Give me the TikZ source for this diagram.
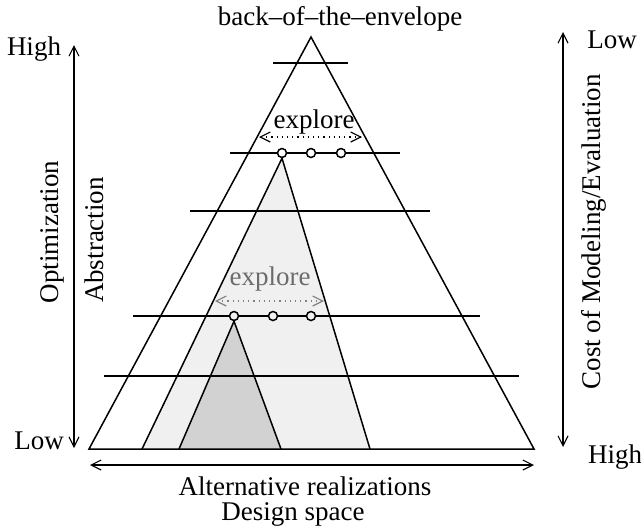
\documentclass[tikz,border=0pt]{standalone}
\usepackage{fontspec}
\setmainfont{Liberation Serif}
\usetikzlibrary{arrows.meta,positioning,calc,backgrounds}

\begin{document}
\begin{tikzpicture}[x=0.5pt,y=-0.5pt,
    line width=0.75pt,
    every node/.style={font=\fontsize{13.5}{16}\selectfont,inner sep=0pt},
    dot/.style={draw,circle,inner sep=0pt,minimum size=4.5pt},
    barbs/.style={{Straight Barb[length=5pt,width=5pt]}-{Straight Barb[length=5pt,width=5pt]}},
    axis/.style={barbs,line width=0.55pt},
    explorearrow/.style={barbs,line width=0.6pt,dotted},
    lightarea/.style={fill=gray!12},
    darkarea/.style={fill=gray!35}
    ]
    \useasboundingbox (0,0) rectangle (641,531);

    % corners of the big triangle
    \coordinate (top) at (311,37);
    \coordinate (bl) at (89,449);
    \coordinate (br) at (534,449);

    % circles on the levels
    \node (u1) [dot] at (282,153) {};
    \node (u2) [dot] at (311,153) {};
    \node (u3) [dot] at (341,153) {};
    \node (l1) [dot] at (234,316) {};
    \node (l2) [dot] at (273,316) {};
    \node (l3) [dot] at (311,316) {};

    % the shaded cones
    \coordinate (mbl) at (142,449);
    \coordinate (mbr) at (370,449);
    \coordinate (sbl) at (179,449);
    \coordinate (sbr) at (281,449);
    \begin{scope}[on background layer]
        \fill[lightarea] (u1.south) -- (mbl) -- (mbr) -- cycle;
        \fill[darkarea] (l1.south) -- (sbl) -- (sbr) -- cycle;
    \end{scope}

    % the levels
    \draw (273,63) -- (348,63);
    \draw (230,153) -- (u1.west);
    \draw (u1.east) -- (u2.west);
    \draw (u2.east) -- (u3.west);
    \draw (u3.east) -- (400,153);
    \draw (190,211) -- (430,211);
    \draw (133,316) -- (l1.west);
    \draw (l1.east) -- (l2.west);
    \draw (l2.east) -- (l3.west);
    \draw (l3.east) -- (480,316);
    \draw (104,376) -- (519,376);

    % the edges
    \draw (bl) -- (top) -- (br) -- cycle;
    \draw (mbl) -- (u1.south) -- (mbr);
    \draw (sbl) -- (l1.south) -- (sbr);

    % explore arrows
    \coordinate (ua) at (259,137);
    \coordinate (ub) at (362,137);
    \draw[explorearrow] (ua) -- (ub);
    \node (ux) [anchor=base] at (314,128) {explore};
    \coordinate (la) at (215,301);
    \coordinate (lb) at (324,301);
    \draw[explorearrow,gray] (la) -- (lb);
    \node (lx) [anchor=base,text=gray!85!black] at (270,285) {explore};

    % labels and axes
    \node (title) [anchor=base] at (340,25) {back--of--the--envelope};

    \coordinate (lt) at (74,45);
    \coordinate (lbt) at (74,448);
    \draw[axis] (lbt) -- (lt);
    \node (lhigh) [anchor=base] at (34,55) {High};
    \node (llow) [anchor=base] at (39,449) {Low};
    \node (opt) [rotate=90,anchor=base] at (58,232) {Optimization};
    \node (abs) [rotate=90,anchor=base] at (103,240) {Abstraction};

    \coordinate (rt) at (563,32);
    \coordinate (rb) at (563,447);
    \draw[axis] (rt) -- (rb);
    \node (rlow) [anchor=base] at (612,48) {Low};
    \node (rhigh) [anchor=base] at (615,463) {High};
    \node (cost) [rotate=90,anchor=base] at (600,232) {Cost of Modeling/Evaluation};

    \coordinate (ba) at (90,465);
    \coordinate (bb) at (534,465);
    \draw[axis] (ba) -- (bb);
    \node (alt) [anchor=base] at (305,495) {Alternative realizations};
    \node (space) [anchor=base] at (293,520) {Design space};
\end{tikzpicture}
\end{document}
